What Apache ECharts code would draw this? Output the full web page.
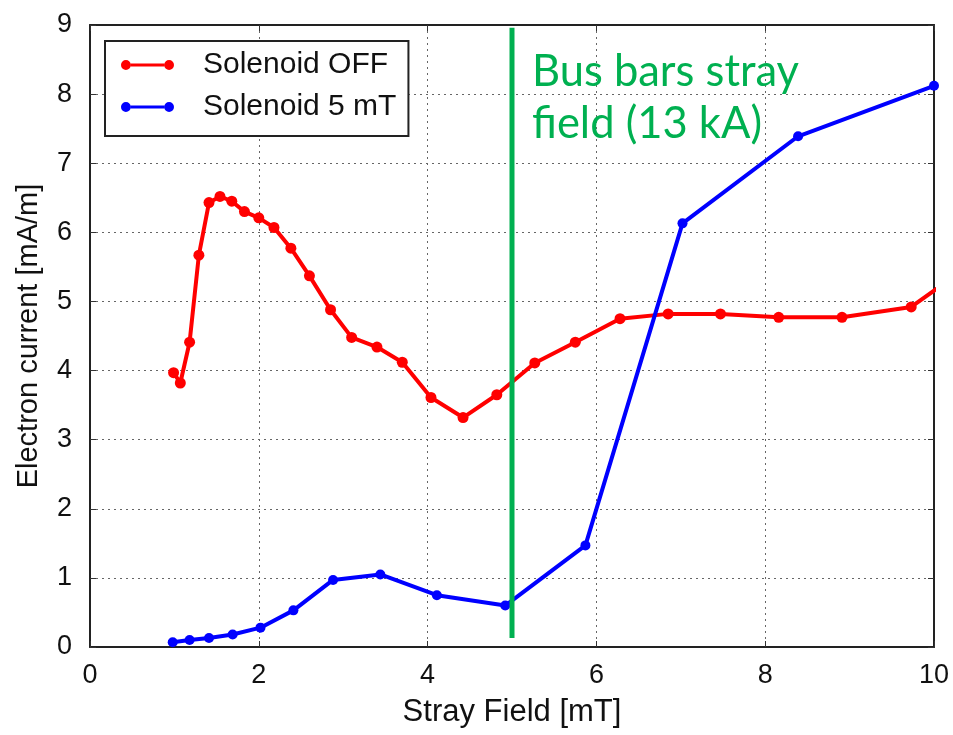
<!DOCTYPE html>
<html>
<head>
<meta charset="utf-8">
<script src="https://cdn.jsdelivr.net/npm/echarts@6/dist/echarts.min.js"></script>
<style>html,body{margin:0;padding:0;background:#fff}#c{width:953px;height:735px}</style>
</head>
<body>
<div id="c"></div>
<script>
// Data
const offX = [0.99, 1.07, 1.18, 1.29, 1.41, 1.54, 1.68, 1.83, 2.00, 2.18, 2.38, 2.60, 2.85, 3.10, 3.40, 3.70, 4.04, 4.42, 4.82, 5.27, 5.75, 6.28, 6.85, 7.47, 8.16, 8.91, 9.73, 10.30];
const offY = [3.97, 3.82, 4.41, 5.67, 6.43, 6.52, 6.45, 6.30, 6.21, 6.07, 5.77, 5.37, 4.88, 4.48, 4.34, 4.12, 3.61, 3.32, 3.65, 4.11, 4.41, 4.75, 4.82, 4.82, 4.77, 4.77, 4.92, 5.42];
const onX = [0.98, 1.18, 1.41, 1.69, 2.02, 2.41, 2.88, 3.44, 4.11, 4.92, 5.87, 7.02, 8.39, 10.0];
const onY = [0.07, 0.10, 0.13, 0.18, 0.28, 0.53, 0.97, 1.05, 0.75, 0.60, 1.47, 6.13, 7.39, 8.12];
const busBarX = [5, 5];
const busBarY = [0.13, 8.96];
const seriesNames = ['Solenoid OFF', 'Solenoid 5 mT'];
const annotation = ['Bus bars stray', 'field (13 kA)'];
const xTicks = [0, 2, 4, 6, 8, 10];
const yTicks = [0, 1, 2, 3, 4, 5, 6, 7, 8, 9];

const zip = (a, b) => a.map((v, i) => [v, b[i]]);
const FONT = '"Liberation Sans", Arial, sans-serif';
const legendIcon = 'path://M0,5 a5,5 0 1,0 10,0 a5,5 0 1,0 -10,0 Z M44,5 a5,5 0 1,0 10,0 a5,5 0 1,0 -10,0 Z M10,3.5 L44,3.5 L44,6.5 L10,6.5 Z';

const chart = echarts.init(document.getElementById('c'), null, {renderer: 'canvas'});
const gridLine = {show: true, lineStyle: {color: '#666', width: 1, type: [2, 4]}};
const frameLine = {show: true, onZero: false, lineStyle: {color: '#222', width: 2}};
const innerTick = {show: true, inside: true, length: 6, lineStyle: {color: '#333', width: 1}};

chart.setOption({
  animation: false,
  backgroundColor: '#fff',
  grid: {left: 90, right: 19, top: 25, bottom: 88, show: false},
  xAxis: [{
    type: 'value', min: xTicks[0], max: xTicks[xTicks.length - 1], interval: 2, position: 'bottom',
    axisLine: frameLine, axisTick: innerTick, splitLine: gridLine,
    axisLabel: {color: '#111', fontSize: 27, fontFamily: FONT, margin: 15},
    name: 'Stray Field [mT]', nameLocation: 'middle', nameGap: 50,
    nameTextStyle: {color: '#111', fontSize: 31, fontFamily: FONT}
  }, {
    type: 'value', min: xTicks[0], max: xTicks[xTicks.length - 1], interval: 2, position: 'top',
    axisLine: frameLine, axisTick: innerTick, splitLine: {show: false}, axisLabel: {show: false}
  }],
  yAxis: [{
    type: 'value', min: yTicks[0], max: yTicks[yTicks.length - 1], interval: 1, position: 'left',
    axisLine: frameLine, axisTick: innerTick, splitLine: gridLine,
    axisLabel: {color: '#111', fontSize: 27, fontFamily: FONT, margin: 18},
    name: 'Electron current [mA/m]', nameLocation: 'middle', nameGap: 47,
    nameTextStyle: {color: '#111', fontSize: 29, fontFamily: FONT}
  }, {
    type: 'value', min: yTicks[0], max: yTicks[yTicks.length - 1], interval: 1, position: 'right',
    axisLine: frameLine, axisTick: innerTick, splitLine: {show: false}, axisLabel: {show: false}
  }],
  legend: {
    data: seriesNames.map(n => ({name: n, icon: legendIcon})),
    orient: 'vertical', left: 105, top: 41,
    borderColor: '#222', borderWidth: 2, borderRadius: 0,
    padding: [9, 12, 14, 16], itemGap: 12,
    itemWidth: 53, itemHeight: 10,
    textStyle: {color: '#111', fontSize: 30, fontFamily: FONT, padding: [0, 0, 0, 24]},
    backgroundColor: '#fff'
  },
  series: [{
    name: seriesNames[0], type: 'line', data: zip(offX, offY), clip: true,
    color: '#ff0000', symbol: 'circle', symbolSize: 11, showSymbol: true,
    lineStyle: {width: 4, color: '#ff0000'}, itemStyle: {color: '#ff0000'}, z: 3
  }, {
    name: seriesNames[1], type: 'line', data: zip(onX, onY), clip: true,
    color: '#0000ff', symbol: 'circle', symbolSize: 10, showSymbol: true,
    lineStyle: {width: 4, color: '#0000ff'}, itemStyle: {color: '#0000ff'}, z: 3
  }, {
    name: 'busbar', type: 'line', data: zip(busBarX, busBarY), clip: false,
    symbol: 'none', lineStyle: {width: 5, color: '#00b050'}, z: 4, silent: true
  }],
  graphic: [{
    type: 'text', left: 532, top: 46, z: 10,
    style: {text: annotation.join('\n'), fill: '#00b050', font: '43.5px Lato, "Open Sans", sans-serif', lineHeight: 52}
  }]
});
</script>
</body>
</html>
